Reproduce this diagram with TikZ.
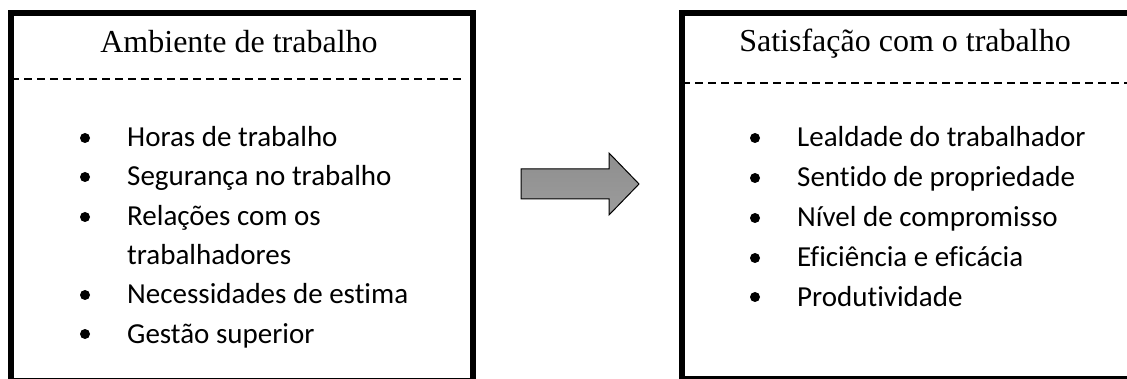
\documentclass[tikz,border=0pt]{standalone}
\usepackage{fontspec}
\setmainfont{Liberation Serif}
\newfontfamily\calib[Ligatures=NoCommon]{Carlito}
\definecolor{arrtop}{HTML}{8E8E8E}
\definecolor{arrbot}{HTML}{9C9C9C}
\tikzset{
  box/.style={draw=black, line width=6pt, inner sep=0pt, anchor=north west},
  title/.style={font=\fontsize{32}{36}\selectfont, anchor=base, inner sep=0pt},
  item/.style={font=\calib\fontsize{29}{34}\selectfont, anchor=base west, inner sep=0pt},
  dot/.style={circle, fill=black, inner sep=0pt, minimum size=10pt},
  sep/.style={dashed, dash pattern=on 8pt off 5pt, line width=1.6pt},
}
\begin{document}
\begin{tikzpicture}[x=1pt,y=-1pt]
\useasboundingbox (0,0) rectangle (1127,379);
% boxes
\node[box, minimum width=462.5pt, minimum height=367.5pt] (L) at (7.5,10) {};
\node[box, minimum width=462pt, minimum height=366pt] (R) at (678.5,10) {};
% titles
\node[title] (Lt) at (239,53) {Ambiente de trabalho};
\node[title] (Rt) at (905,52) {Satisfação com o trabalho};
% dashed separators
\coordinate (L1) at (11,79);
\coordinate (L2) at (461,79);
\coordinate (R1) at (682,83);
\coordinate (R2) at (1127,83);
\draw[sep] (L1) -- (L2);
\draw[sep] (R1) -- (R2);
% left items
\foreach \y/\t/\n in {147/Horas de trabalho/a, 186/Segurança no trabalho/b, 226/Relações com os/c, 304/Necessidades de estima/e, 343/Gestão superior/f}{
  \node[dot] (Ld\n) at (85,\y-9) {};
  \node[item] (Li\n) at (127,\y) {\t};
}
\node[item] (Lid) at (127,265) {trabalhadores};
% right items
\foreach \y/\t/\n in {147/Lealdade do trabalhador/a, 187/Sentido de propriedade/b, 227/Nível de compromisso/c, 267/Eficiência e eficácia/d, 306/Produtividade/e}{
  \node[dot] (Rd\n) at (755,\y-9) {};
  \node[item] (Ri\n) at (797,\y) {\t};
}
% block arrow
\draw[line width=1pt, top color=arrtop, bottom color=arrbot]
  (521,169) -- (609,169) -- (609,153) -- (639,184) -- (609,215) -- (609,199) -- (521,199) -- cycle;
\end{tikzpicture}
\end{document}
